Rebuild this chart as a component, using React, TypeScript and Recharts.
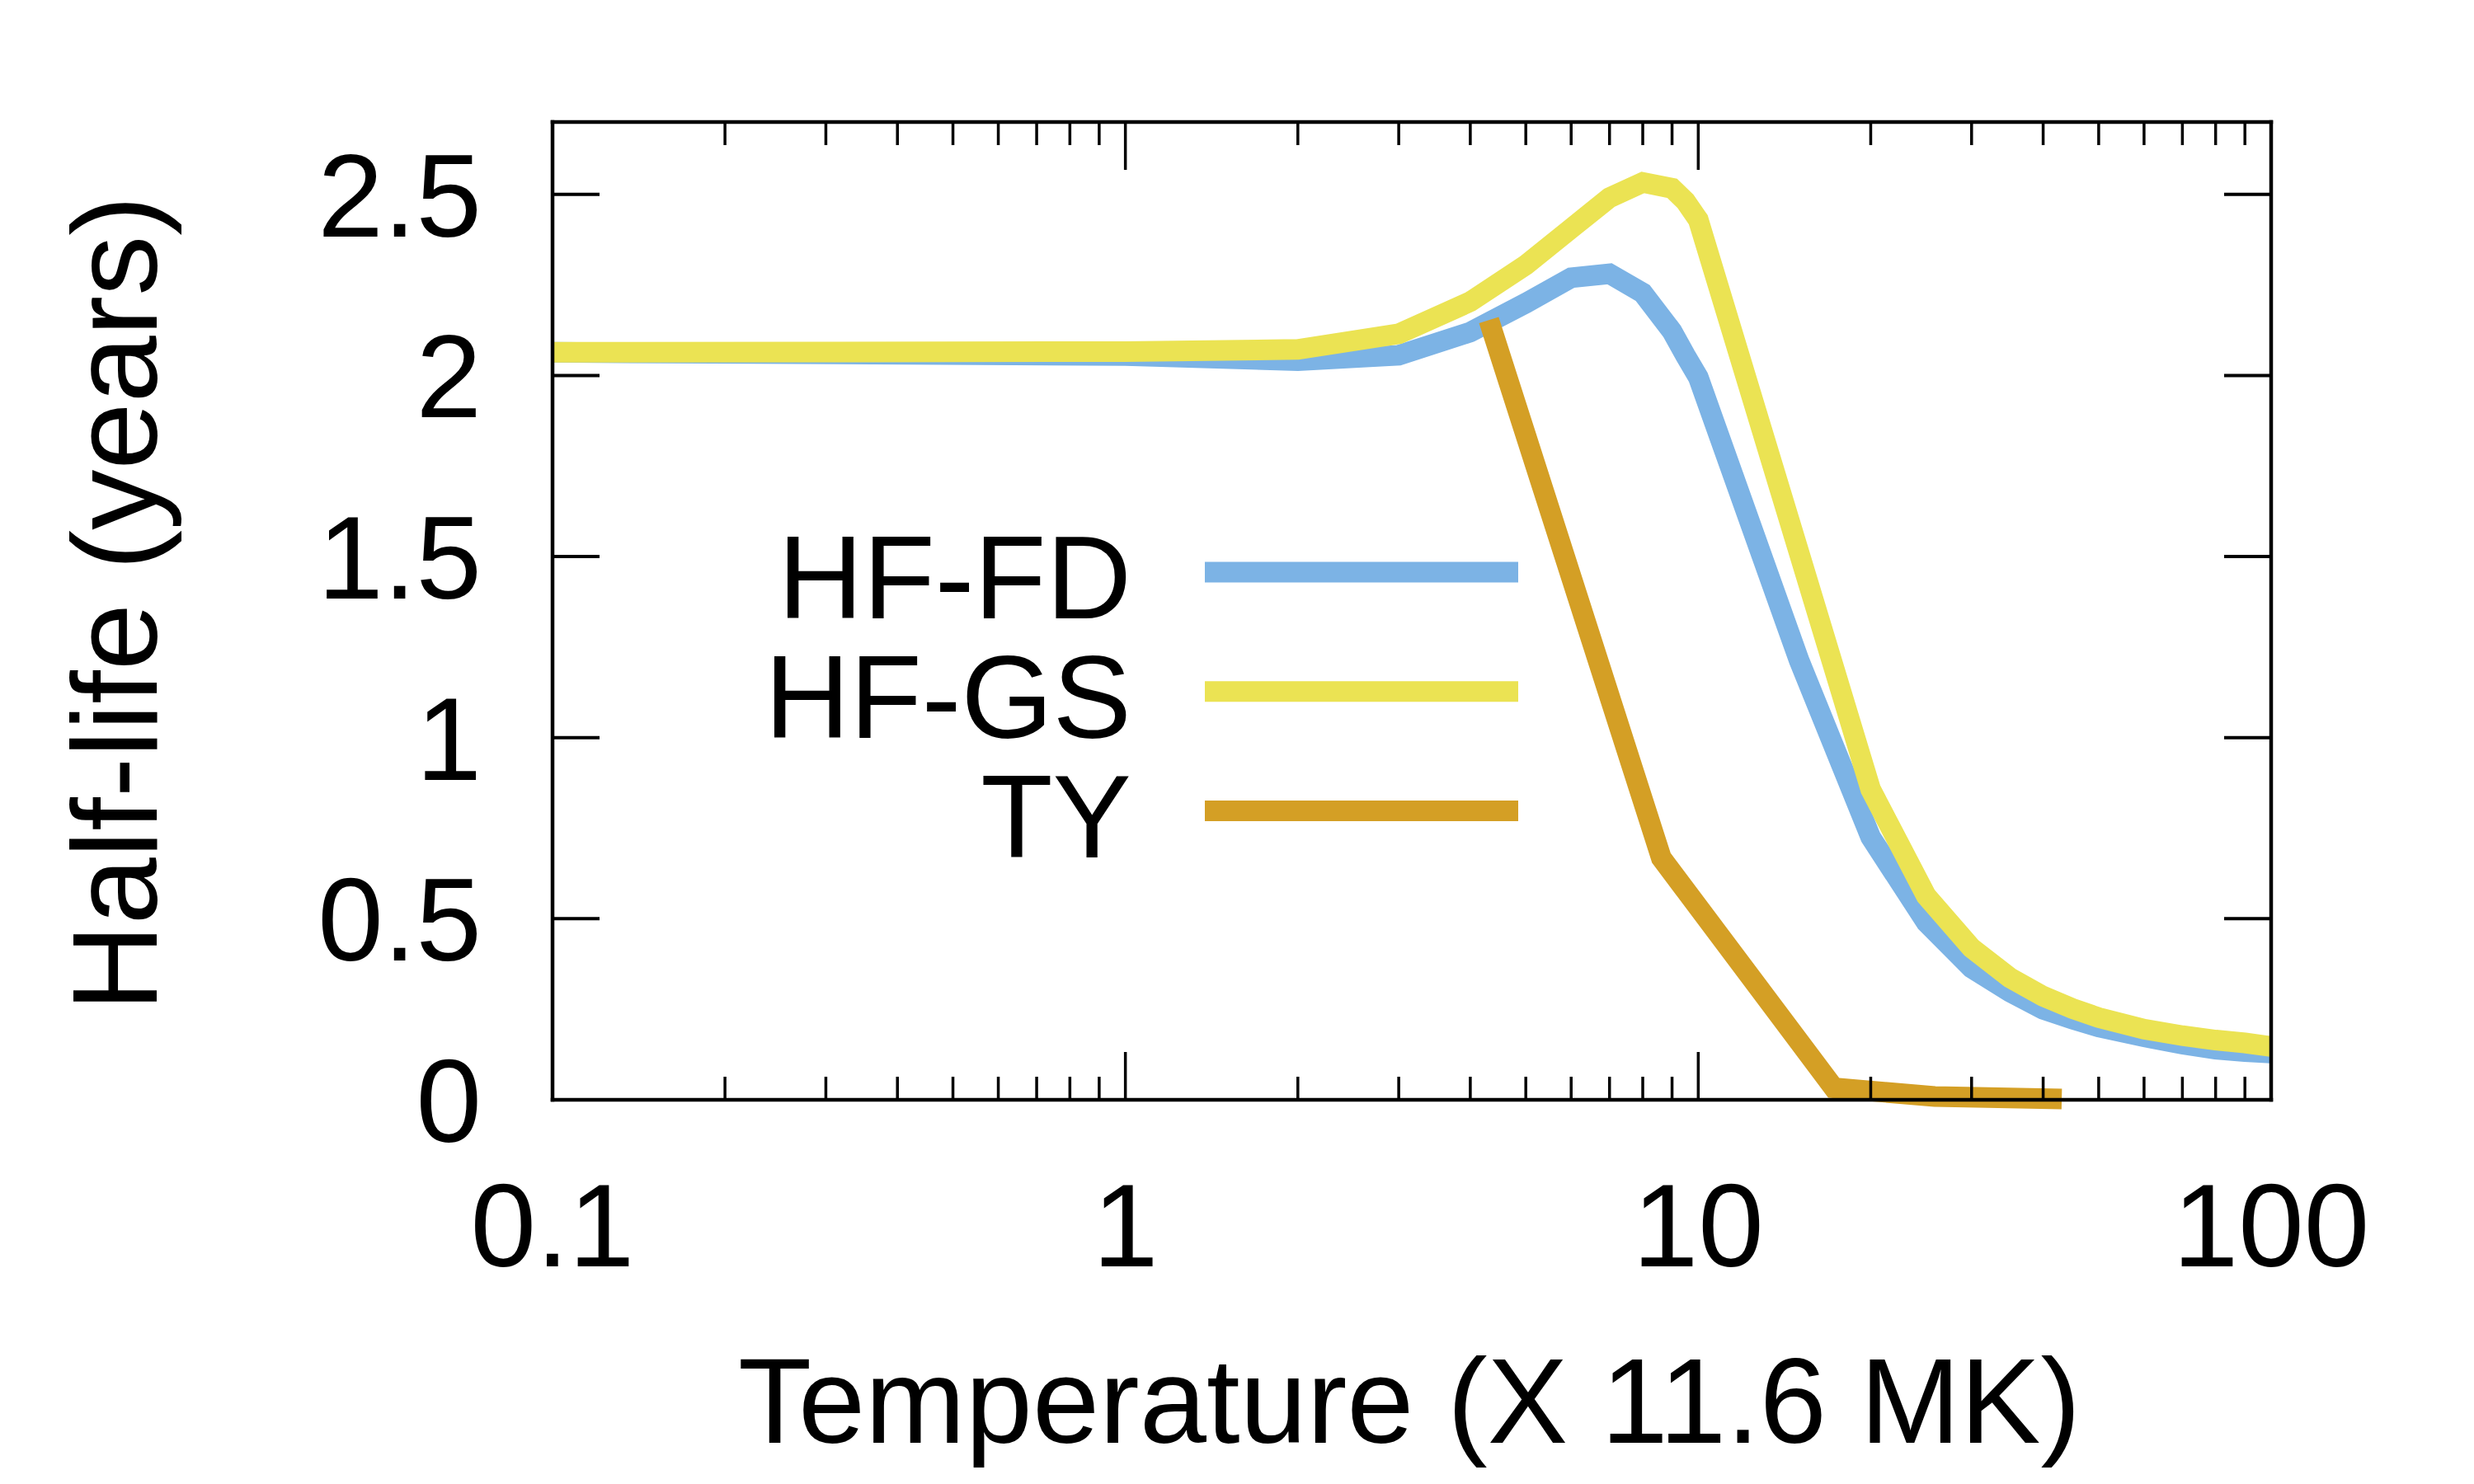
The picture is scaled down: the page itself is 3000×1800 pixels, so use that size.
import React from 'react';
import { LineChart, Line, XAxis, YAxis, Legend } from 'recharts';

// temperatures (X 11.6 MK) for the HF curves
const hfTemps = [0.1, 1, 2, 3, 4, 5, 6, 7, 8, 9, 9.5, 10, 15, 20, 25, 30, 35, 40, 45, 50, 60, 70, 80, 90, 100];
const hfFd = [2.064, 2.055, 2.041, 2.056, 2.12, 2.2, 2.27, 2.281, 2.228, 2.122, 2.055, 1.995, 1.213, 0.725, 0.49, 0.364, 0.298, 0.25, 0.223, 0.201, 0.174, 0.154, 0.14, 0.133, 0.129];
const hfGs = [2.064, 2.066, 2.072, 2.115, 2.204, 2.305, 2.406, 2.491, 2.533, 2.517, 2.481, 2.43, 1.51, 0.857, 0.563, 0.419, 0.337, 0.286, 0.252, 0.227, 0.195, 0.177, 0.165, 0.157, 0.147];

const tyTemps = [4.31, 8.62, 17.24, 25.86, 43.1];
const ty = [2.153, 0.668, 0.033, 0.009, 0.002];

const xMajor = [0.1, 1, 10, 100];
const xMinor = [0.2, 0.3, 0.4, 0.5, 0.6, 0.7, 0.8, 0.9, 2, 3, 4, 5, 6, 7, 8, 9, 20, 30, 40, 50, 60, 70, 80, 90];
const yTicks = [0, 0.5, 1, 1.5, 2, 2.5];

const fdData = hfTemps.map((t, i) => ({ t, v: hfFd[i] }));
const gsData = hfTemps.map((t, i) => ({ t, v: hfGs[i] }));
const tyData = tyTemps.map((t, i) => ({ t, v: ty[i] }));

const FONT = '"Liberation Sans", Arial, Helvetica, sans-serif';
const FS = 143;
const TITLE_FS = 146;

// plot frame (matches chart margins below)
const PLOT_LEFT = 670;
const PLOT_RIGHT = 2754;
const PLOT_TOP = 148;
const PLOT_BOTTOM = 1334;

const XTick = (props: any) => {
  const { x, y, payload } = props;
  const major = xMajor.includes(payload.value);
  const len = major ? 58 : 28;
  return (
    <g>
      <line x1={x} x2={x} y1={PLOT_BOTTOM} y2={PLOT_BOTTOM - len} stroke="#000" strokeWidth={3.5} />
      <line x1={x} x2={x} y1={PLOT_TOP} y2={PLOT_TOP + len} stroke="#000" strokeWidth={3.5} />
      {major && (
        <text x={x} y={y} dy="0.71em" textAnchor="middle" fontSize={FS} fontFamily={FONT} fill="#000">
          {payload.value}
        </text>
      )}
    </g>
  );
};

const YTick = (props: any) => {
  const { x, y, payload } = props;
  return (
    <g>
      <line x1={PLOT_LEFT} x2={PLOT_LEFT + 57} y1={y} y2={y} stroke="#000" strokeWidth={4} />
      <line x1={PLOT_RIGHT} x2={PLOT_RIGHT - 57} y1={y} y2={y} stroke="#000" strokeWidth={4} />
      <text x={x} y={y} dy="0.355em" textAnchor="end" fontSize={FS} fontFamily={FONT} fill="#000">
        {payload.value}
      </text>
    </g>
  );
};

const XTitle = (props: any) => {
  const { viewBox } = props;
  return (
    <text x={viewBox.x + viewBox.width / 2 - 3} y={1750} textAnchor="middle" fontSize={TITLE_FS} fontFamily={FONT} fill="#000">
      Temperature (X 11.6 MK)
    </text>
  );
};

const YTitle = () => (
  <text
    x={138}
    y={732}
    dy="0.358em"
    transform="rotate(-90, 138, 732)"
    textAnchor="middle"
    fontSize={TITLE_FS}
    fontFamily={FONT}
    fill="#000"
  >
    Half-life (years)
  </text>
);

const LegendBox = (props: any) => {
  const { payload } = props;
  return (
    <svg width={1000} height={450}>
      {(payload || []).map((e: any, i: number) => {
        const cy = 94 + i * 144.75;
        return (
          <g key={e.value}>
            <text x={472} y={cy + 56} textAnchor="end" fontSize={FS} fontFamily={FONT} fill="#000">
              {e.value}
            </text>
            <line x1={561} x2={941} y1={cy} y2={cy} stroke={e.color} strokeWidth={25} />
          </g>
        );
      })}
    </svg>
  );
};

const axisLine = { stroke: '#000', strokeWidth: 4.5, strokeLinecap: 'square' as const };

export default function App() {
  return (
    <div style={{ position: 'absolute', left: 0, top: 0, width: 3000, height: 1800, background: '#fff' }}>
      <LineChart width={3000} height={1800} margin={{ top: 148, right: 246, bottom: 46, left: 20 }}>
        <XAxis
          xAxisId="main"
          dataKey="t"
          type="number"
          scale="log"
          domain={[0.1, 100]}
          ticks={[...xMajor, ...xMinor].sort((a, b) => a - b)}
          interval={0}
          height={420}
          tickLine={false}
          tickSize={0}
          tickMargin={100}
          axisLine={axisLine}
          tick={<XTick />}
          label={{ content: <XTitle /> }}
        />
        <XAxis
          xAxisId="top"
          dataKey="t"
          type="number"
          scale="log"
          domain={[0.1, 100]}
          orientation="top"
          mirror
          tickLine={false}
          tick={false}
          axisLine={axisLine}
        />
        <YAxis
          yAxisId="main"
          type="number"
          domain={[0, 2.7]}
          ticks={yTicks}
          interval={0}
          width={650}
          tickLine={false}
          tickSize={0}
          tickMargin={86}
          axisLine={axisLine}
          tick={<YTick />}
          label={{ content: <YTitle /> }}
        />
        <YAxis
          yAxisId="right"
          type="number"
          domain={[0, 2.7]}
          orientation="right"
          mirror
          tickLine={false}
          tick={false}
          axisLine={axisLine}
        />
        <Legend
          layout="vertical"
          align="center"
          verticalAlign="middle"
          content={<LegendBox />}
          wrapperStyle={{ left: 900, top: 600, width: 1000, height: 450 }}
        />
        <Line
          xAxisId="main"
          yAxisId="main"
          data={fdData}
          dataKey="v"
          name="HF-FD"
          type="linear"
          stroke="#7cb3e5"
          strokeWidth={25}
          dot={false}
          activeDot={false}
          isAnimationActive={false}
        />
        <Line
          xAxisId="main"
          yAxisId="main"
          data={gsData}
          dataKey="v"
          name="HF-GS"
          type="linear"
          stroke="#ebe353"
          strokeWidth={25}
          dot={false}
          activeDot={false}
          isAnimationActive={false}
        />
        <Line
          xAxisId="main"
          yAxisId="main"
          data={tyData}
          dataKey="v"
          name="TY"
          type="linear"
          stroke="#d49f25"
          strokeWidth={25}
          dot={false}
          activeDot={false}
          isAnimationActive={false}
        />
      </LineChart>
    </div>
  );
}
